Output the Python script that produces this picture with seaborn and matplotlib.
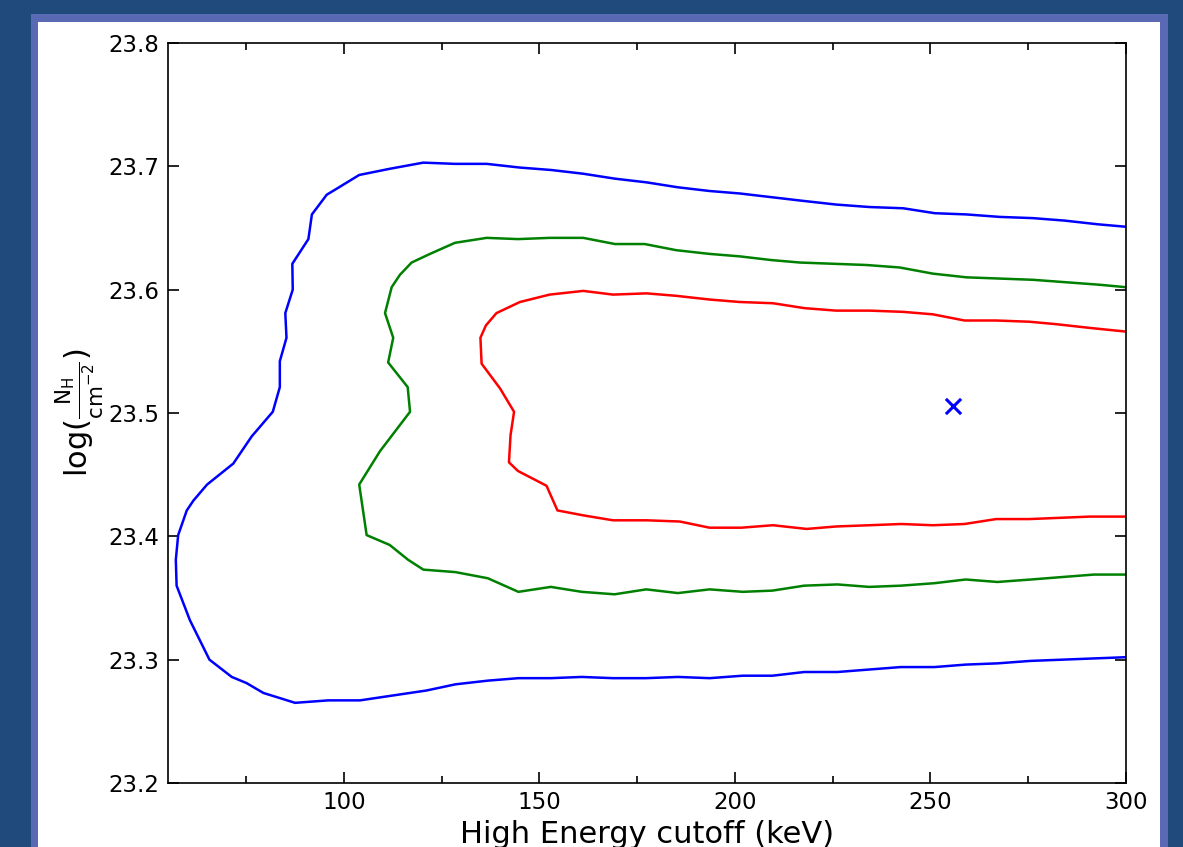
import matplotlib
matplotlib.use("Agg")
import matplotlib.pyplot as plt
from matplotlib.patches import Rectangle
from matplotlib.ticker import MultipleLocator
import seaborn as sns
import pandas as pd

# ---- data (keV, log NH) ----
blue_x = [300, 292.8, 284.3, 276.2, 267.7, 259.2, 251.1, 243.0, 234.4, 225.9, 217.4, 209.3,
          201.2, 193.5, 185.4, 177.4, 169.3, 161.2, 153.1, 145.0, 136.5, 128.4, 120.3, 111.7,
          103.9, 97.7, 95.6, 91.8, 90.9, 86.8, 86.9, 85.0, 85.3, 83.6, 83.6, 81.8, 76.4, 71.7,
          65.0, 61.5, 59.8, 57.6, 57.0, 57.2, 60.6, 65.6, 71.3, 75.1, 79.4, 87.5, 96.0, 104.1,
          112.6, 121.1, 128.5, 136.8, 144.6, 152.9, 160.8, 168.8, 177.2, 185.4, 193.5, 202.0,
          209.6, 217.7, 226.2, 234.3, 242.4, 251.0, 259.0, 267.1, 275.6, 283.7, 291.8, 300]
blue_y = [23.651, 23.653, 23.656, 23.658, 23.659, 23.661, 23.662, 23.666, 23.667, 23.669,
          23.672, 23.675, 23.678, 23.680, 23.683, 23.687, 23.690, 23.694, 23.697, 23.699,
          23.702, 23.702, 23.703, 23.698, 23.693, 23.681, 23.677, 23.661, 23.641, 23.621,
          23.600, 23.581, 23.561, 23.542, 23.521, 23.501, 23.481, 23.459, 23.442, 23.429,
          23.421, 23.401, 23.381, 23.360, 23.332, 23.300, 23.286, 23.281, 23.273, 23.265,
          23.267, 23.267, 23.271, 23.275, 23.280, 23.283, 23.285, 23.285, 23.286, 23.285,
          23.285, 23.286, 23.285, 23.287, 23.287, 23.290, 23.290, 23.292, 23.294, 23.294,
          23.296, 23.297, 23.299, 23.300, 23.301, 23.302]

green_x = [300, 293.2, 284.7, 276.2, 267.7, 259.2, 250.6, 242.1, 233.6, 225.1, 216.6, 209.3,
           201.2, 193.5, 185.0, 176.9, 169.3, 161.2, 152.6, 144.5, 136.5, 128.4, 122.0, 117.3,
           114.3, 112.2, 110.5, 112.6, 111.3, 116.3, 116.9, 109.2, 103.9, 105.8, 111.7, 116.4,
           120.3, 128.5, 136.8, 144.6, 152.9, 160.8, 169.2, 177.3, 185.4, 193.5, 202.0, 209.6,
           217.7, 226.2, 234.3, 242.4, 251.0, 259.0, 267.1, 275.7, 283.7, 291.8, 300]
green_y = [23.602, 23.604, 23.606, 23.608, 23.609, 23.610, 23.613, 23.618, 23.620, 23.621,
           23.622, 23.624, 23.627, 23.629, 23.632, 23.637, 23.637, 23.642, 23.642, 23.641,
           23.642, 23.638, 23.629, 23.622, 23.612, 23.602, 23.581, 23.561, 23.541, 23.521,
           23.501, 23.469, 23.442, 23.401, 23.393, 23.381, 23.373, 23.371, 23.366, 23.355,
           23.359, 23.355, 23.353, 23.357, 23.354, 23.357, 23.355, 23.356, 23.360, 23.361,
           23.359, 23.360, 23.362, 23.365, 23.363, 23.365, 23.367, 23.369, 23.369]

red_x = [300, 290.7, 282.2, 275.3, 266.8, 258.7, 250.6, 243.0, 234.4, 225.9, 217.8, 209.7,
         201.2, 193.5, 185.0, 177.4, 168.8, 161.2, 152.6, 145.0, 139.0, 136.3, 134.9, 135.2,
         139.9, 143.5, 142.6, 142.2, 144.5, 151.8, 154.6, 161.2, 168.8, 177.4, 185.9, 193.5,
         201.6, 209.7, 218.3, 225.9, 234.4, 242.5, 250.6, 258.7, 266.8, 275.3, 283.0, 290.7, 300]
red_y = [23.566, 23.569, 23.572, 23.574, 23.575, 23.575, 23.580, 23.582, 23.583, 23.583,
         23.585, 23.589, 23.590, 23.592, 23.595, 23.597, 23.596, 23.599, 23.596, 23.590,
         23.581, 23.571, 23.561, 23.540, 23.520, 23.501, 23.482, 23.460, 23.453, 23.441,
         23.421, 23.417, 23.413, 23.413, 23.412, 23.407, 23.407, 23.409, 23.406, 23.408,
         23.409, 23.410, 23.409, 23.410, 23.414, 23.414, 23.415, 23.416, 23.416]

best_x = [255.7]
best_y = [23.506]

x_ticks = [100, 150, 200, 250, 300]
y_ticks = [23.2, 23.3, 23.4, 23.5, 23.6, 23.7, 23.8]
y_tick_labels = ["23.2", "23.3", "23.4", "23.5", "23.6", "23.7", "23.8"]

# ---- figure ----
sns.set_style("white")
plt.rcParams["font.family"] = ["DejaVu Sans"]

W, H = 1183, 847
fig = plt.figure(figsize=(W / 100, H / 100), dpi=100)
fig.patch.set_facecolor("#214a7c")
fig.patches.append(Rectangle((31 / W, 0), (1168 - 31) / W, (H - 14) / H,
                             transform=fig.transFigure, facecolor="#5a69b4",
                             edgecolor="none", zorder=-2))
fig.patches.append(Rectangle((38 / W, 0), (1160 - 38) / W, (H - 22) / H,
                             transform=fig.transFigure, facecolor="white",
                             edgecolor="none", zorder=-1))

ax = fig.add_axes([168 / W, 1 - 783 / H, (1126 - 168) / W, (783 - 43) / H])
ax.set_facecolor("white")

for xs, ys, col in [(blue_x, blue_y, "#0000ff"), (green_x, green_y, "#008000"),
                    (red_x, red_y, "#ff0000")]:
    df = pd.DataFrame({"x": xs, "y": ys})
    sns.lineplot(data=df, x="x", y="y", sort=False, estimator=None, color=col,
                 linewidth=1.8, ax=ax)

sns.scatterplot(x=best_x, y=best_y, marker="x", color="#0000ff", s=120,
                linewidth=2.2, ax=ax, zorder=5)

ax.set_xlim(55, 300)
ax.set_ylim(23.2, 23.8)
ax.set_xticks(x_ticks)
ax.xaxis.set_minor_locator(MultipleLocator(25))
ax.set_yticks(y_ticks)
ax.set_yticklabels(y_tick_labels)

for s in ax.spines.values():
    s.set_visible(True)
    s.set_color("black")
    s.set_linewidth(1.2)

ax.tick_params(axis="both", which="major", direction="in", length=8, width=1.2,
               top=True, right=True, bottom=True, left=True, labelsize=16.5, pad=6,
               colors="black", labelcolor="black")
ax.tick_params(axis="x", which="minor", direction="in", length=5, width=1.2,
               top=True, bottom=True, colors="black")

ax.set_xlabel("High Energy cutoff (keV)", fontsize=22, labelpad=4, color="black")
ax.set_ylabel(r"log($\frac{\mathrm{N_H}}{\mathrm{cm^{-2}}}$)", fontsize=22, labelpad=2,
              color="black")

fig.savefig("out.png", dpi=100, facecolor=fig.get_facecolor())
